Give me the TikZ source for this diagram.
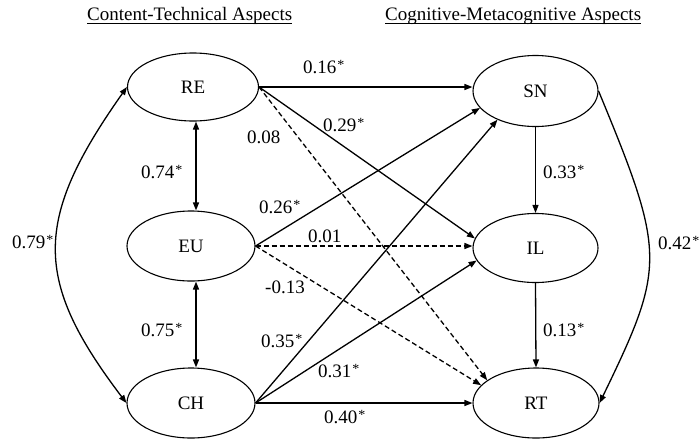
\documentclass[tikz,border=0pt]{standalone}
\usepackage{fontspec}
\setmainfont{Liberation Serif}
\usetikzlibrary{shapes.geometric,arrows.meta}
\newcommand{\sig}{\kern0.8pt\raisebox{4pt}{\fontsize{14}{14}\selectfont *}}
\begin{document}
\begin{tikzpicture}[x=1pt,y=-1pt,
  font=\fontsize{19}{22}\selectfont,
  var/.style={ellipse,draw,line width=1.1pt,inner sep=0pt},
  lab/.style={anchor=base west,inner sep=0pt},
  ttl/.style={anchor=base west,inner sep=0pt},
  link/.style={line width=1.3pt,-{Triangle[length=8pt,width=6pt]}},
  both/.style={line width=1.3pt,{Triangle[length=8pt,width=6pt]}-{Triangle[length=8pt,width=6pt]}},
  dsh/.style={dash pattern=on 5pt off 3pt}]
\useasboundingbox (0,0) rectangle (700,440);

% titles
\node[ttl] (t1) at (87,20) {Content-Technical Aspects};
\node[ttl] (t2) at (385,20) {Cognitive-Metacognitive Aspects};
\draw[line width=0.8pt] ([yshift=-3pt]t1.base west) -- ([yshift=-3pt]t1.base east);
\draw[line width=0.8pt] ([yshift=-3pt]t2.base west) -- ([yshift=-3pt]t2.base east);

% variables
\node[var,minimum width=131pt,minimum height=68pt] (RE) at (193,87) {RE};
\node[var,minimum width=128pt,minimum height=70pt] (EU) at (191,246) {EU};
\node[var,minimum width=128pt,minimum height=70pt] (CH) at (191,403) {CH};
\node[var,minimum width=125pt,minimum height=71pt] (SN) at (535.5,91) {SN};
\node[var,minimum width=125pt,minimum height=69pt] (IL) at (535.5,248) {IL};
\node[var,minimum width=126pt,minimum height=70pt] (RT) at (536,403) {RT};
\coordinate (vl) at (196,0);

% paths
\draw[link] (RE.east) -- (RE.east -| SN.west);
\draw[link] (RE.east) -- (IL.171);
\draw[link,dsh] (RE.east) -- (RT.155);
\draw[link] (EU.east) -- (SN.197);
\draw[link,dsh] (EU.east) -- (EU.east -| IL.west);
\draw[link,dsh] (EU.east) -- (RT.162);
\draw[link] (CH.east) -- (SN.217);
\draw[link] (CH.east) -- (IL.192);
\draw[link] (CH.east) -- (RT.west);
\draw[link] (SN.south) -- (IL.north);
\draw[link] (IL.south) -- (RT.north);
\draw[both] (RE.south -| vl) -- (EU.north -| vl);
\draw[both] (EU.south -| vl) -- (CH.north -| vl);
\draw[both] (RE.west) .. controls (33,220) and (33,280) .. (CH.west);
\draw[link] (SN.east) .. controls (666,254) and (666,266) .. (RT.east);

% labels
\node[lab] (l16) at (303,73) {0.16\sig};
\node[lab] (l29) at (323,131) {0.29\sig};
\node[lab] (l08) at (247,143) {0.08};
\node[lab] (l74) at (141,178) {0.74\sig};
\node[lab] (l26) at (259,213) {0.26\sig};
\node[lab] (l79) at (12,248) {0.79\sig};
\node[lab] (l01) at (308,242) {0.01};
\node[lab] (lm13) at (265,293) {-0.13};
\node[lab] (l35) at (261,347) {0.35\sig};
\node[lab] (l31) at (318,377) {0.31\sig};
\node[lab] (l40) at (324,423) {0.40\sig};
\node[lab] (l75) at (141,336) {0.75\sig};
\node[lab] (l33) at (543,178) {0.33\sig};
\node[lab] (l42) at (658,249) {0.42\sig};
\node[lab] (l13) at (543,336) {0.13\sig};
\end{tikzpicture}
\end{document}
